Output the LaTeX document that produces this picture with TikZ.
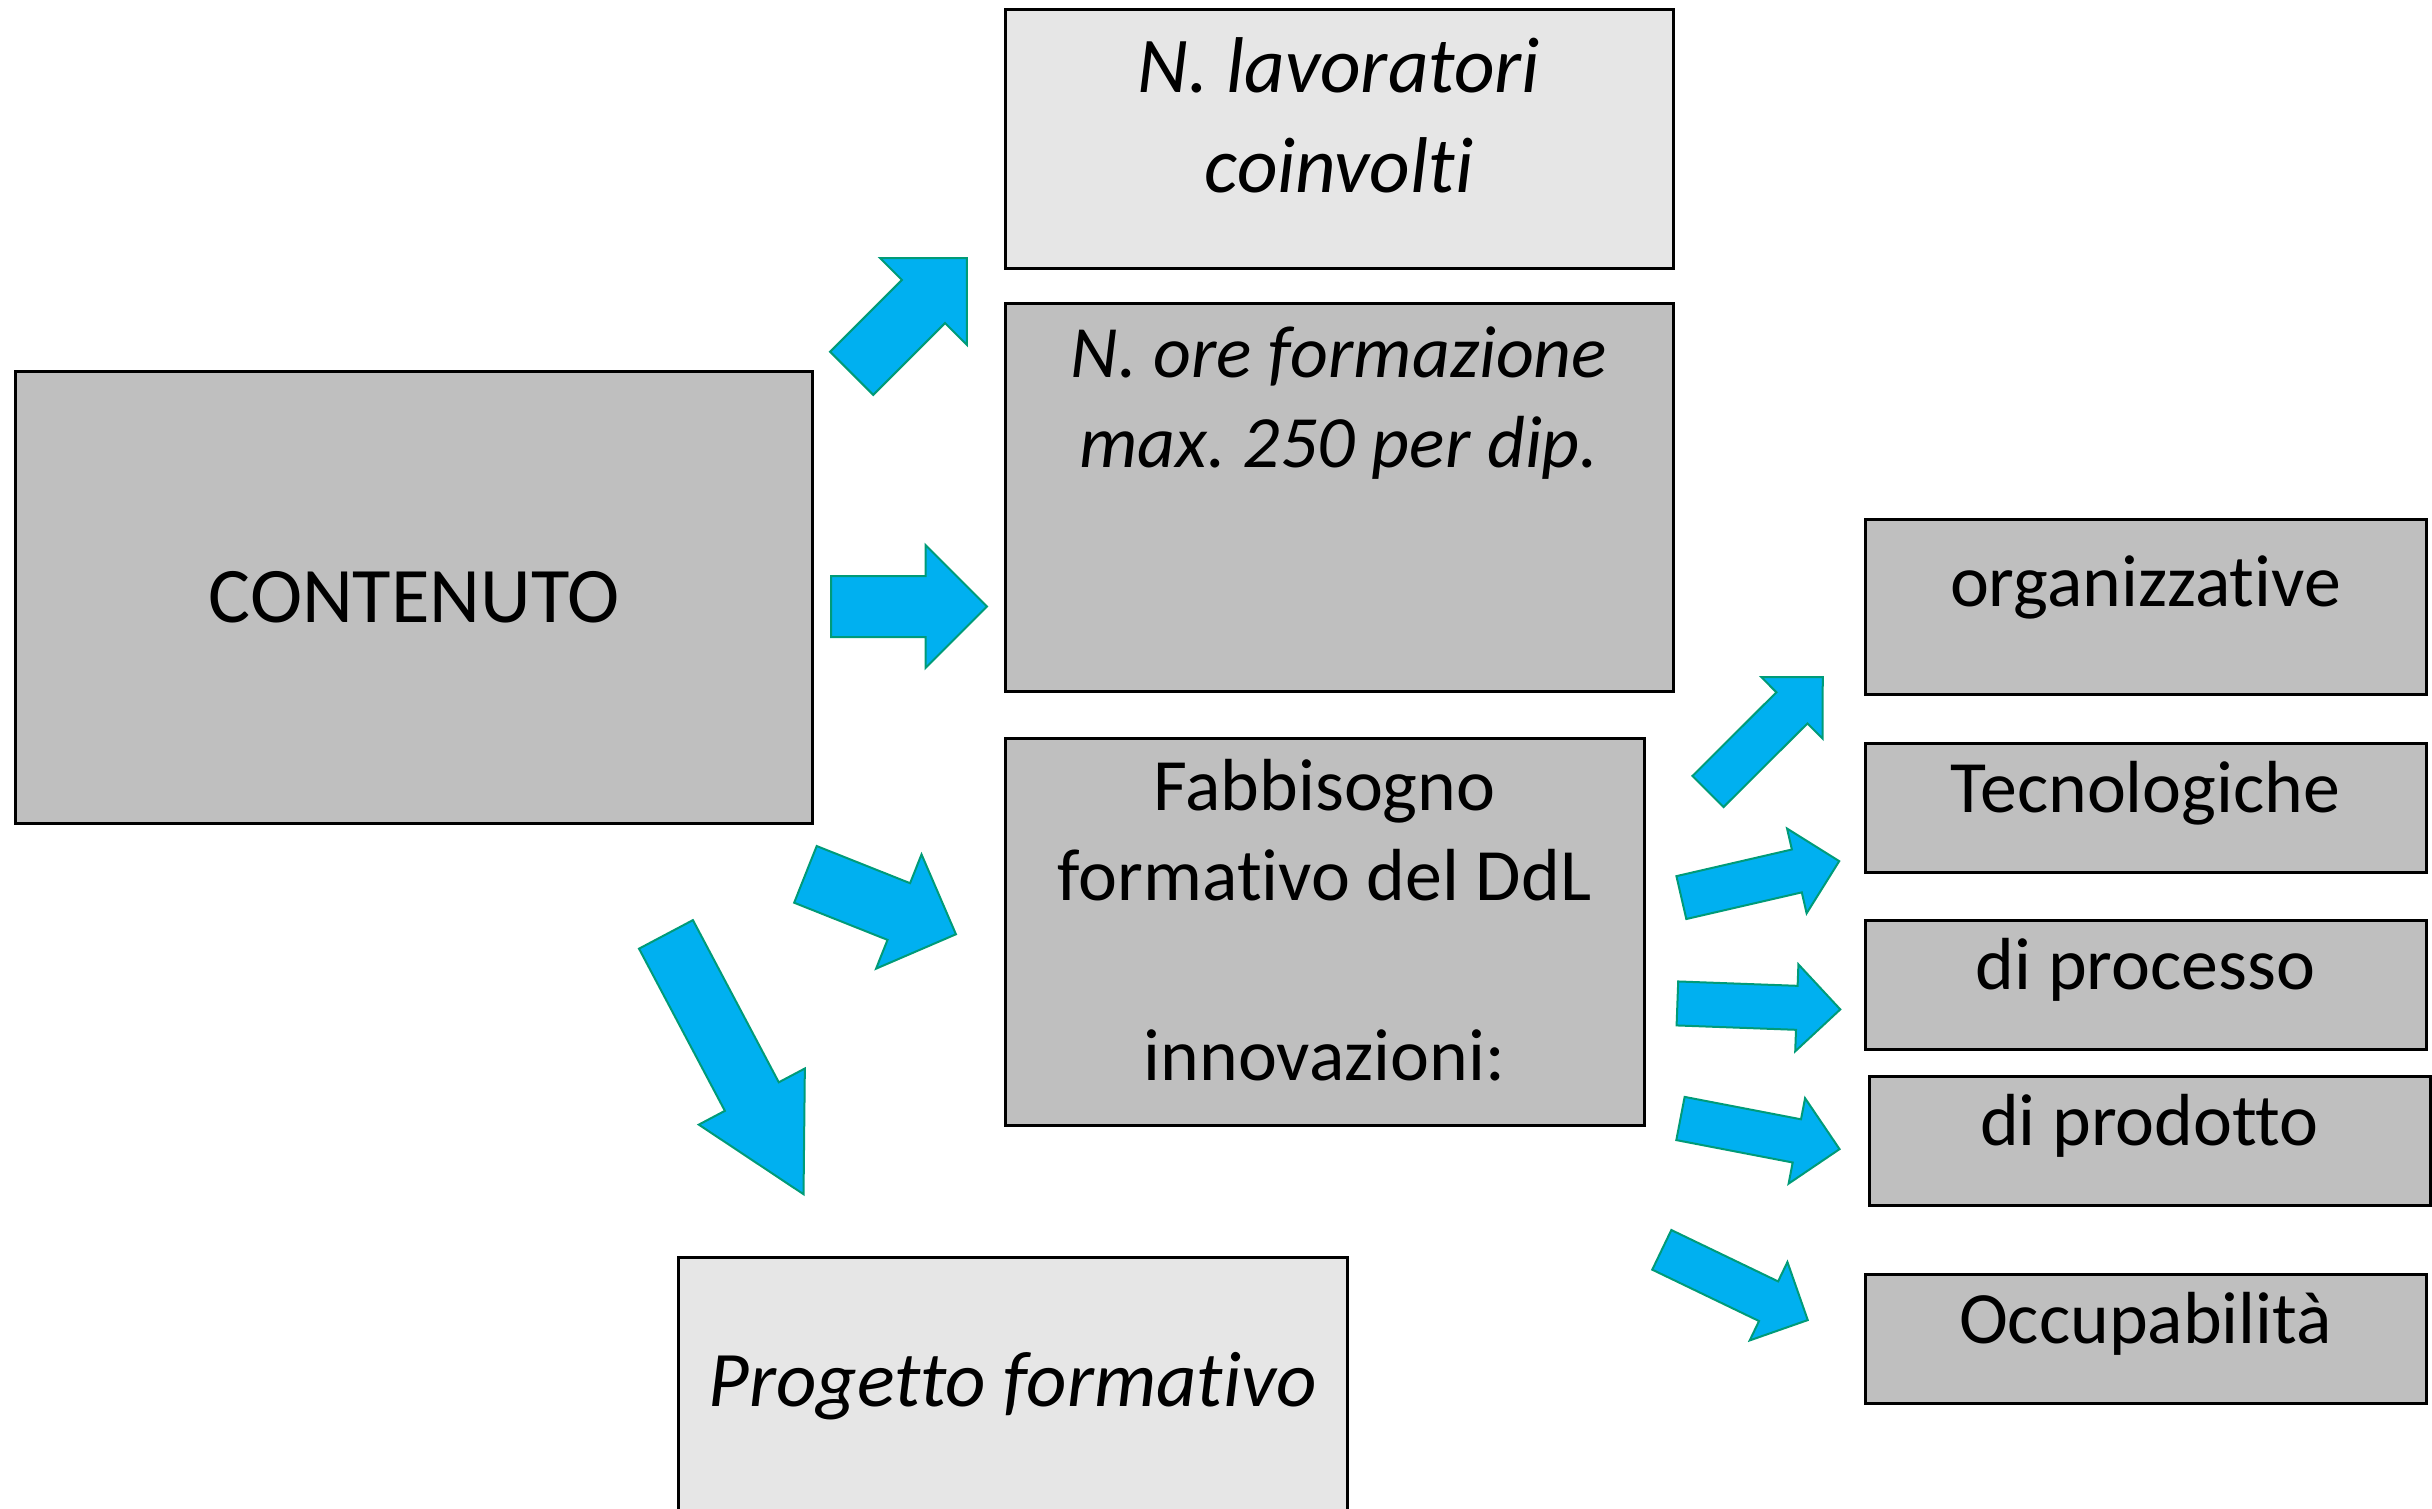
\documentclass[tikz,border=0pt]{standalone}
\usepackage{fontspec}
\setmainfont{Carlito}[Ligatures=NoCommon]
\usetikzlibrary{positioning, shapes.arrows}
\definecolor{boxgray}{HTML}{BFBFBF}
\definecolor{boxlight}{HTML}{E6E6E6}
\definecolor{arrowblue}{HTML}{00B0F0}
\definecolor{arrowrim}{RGB}{0,155,120}

\tikzset{
  gbox/.style={draw, line width=0.03cm, fill=boxgray, inner sep=0pt, align=center},
  lbox/.style={gbox, fill=boxlight},
  rbox/.style={gbox, minimum width=5.61cm, inner ysep=0.17cm, text height=0.52cm,
    text depth=0.43cm, font=\fontsize{21}{25.6}\selectfont},
  toptext/.style={anchor=north, align=center, font=\fontsize{21}{25.6}\selectfont},
  barrow/.style={single arrow, draw=arrowrim, fill=arrowblue, line width=0.02cm,
    inner xsep=0pt, inner ysep=0.295cm, single arrow head extend=0.31cm, anchor=tail},
  sarrow/.style={barrow, inner ysep=0.21cm, single arrow head extend=0.215cm,
    minimum height=1.62cm}
}

\begin{document}
\frenchspacing
\begin{tikzpicture}[node distance=2cm, auto]
\useasboundingbox (0,0) rectangle (24.32,-15.09);
\clip (0,0) rectangle (24.32,-15.09);

% boxes
\node (CONT) [gbox, minimum width=7.96cm, minimum height=4.52cm,
  font=\fontsize{22.4}{27}\selectfont] at (4.14,-5.97) {CONTENUTO};
\node (LAV) [lbox, minimum width=6.68cm, minimum height=2.59cm,
  label={[toptext, yshift=-0.18cm, font=\fontsize{22.5}{28.3}\selectfont\itshape]north:{N. lavoratori\\coinvolti}}]
  at (13.39,-1.385) {};
\node (ORE) [gbox, below of=LAV, yshift=-1.585cm, minimum width=6.68cm, minimum height=3.88cm,
  label={[toptext, yshift=-0.13cm, font=\fontsize{21}{25.5}\selectfont\itshape]north:{N. ore formazione\\max. 250 per dip.}}] {};
\node (FAB) [gbox, below of=ORE, yshift=-2.345cm, xshift=-0.145cm, minimum width=6.39cm, minimum height=3.87cm,
  label={[toptext, yshift=-0.10cm]north:{Fabbisogno\\formativo del DdL\\[0.9cm]innovazioni:}}] {};
\node (PROG) [lbox, minimum width=6.69cm, minimum height=2.58cm,
  font=\fontsize{22.4}{27}\selectfont\itshape] at (10.125,-13.86) {Progetto formativo};

\node (ORG) [rbox, minimum height=1.75cm, text height=0.70cm, text depth=0.71cm] at (21.455,-6.065) {organizzative};
\node (TEC) [rbox, below of=ORG, yshift=-0.01cm] {Tecnologiche};
\node (PROC) [rbox, below of=TEC, yshift=0.23cm] {di processo};
\node (PROD) [rbox, below of=PROC, yshift=0.44cm, xshift=0.04cm] {di prodotto};
\node (OCC) [rbox, below of=PROD, yshift=0.015cm, xshift=-0.04cm] {Occupabilità};

% arrows
\node (AR1) [barrow, rotate=45, minimum height=1.63cm] at (8.51,-3.74) {};
\node (AR2) [barrow, minimum height=1.56cm] at (8.30,-6.065) {};
\node (AR3) [barrow, rotate=-21.7, minimum height=1.62cm] at (8.045,-8.74) {};
\node (AR4) [barrow, rotate=-62.1, minimum height=2.94cm, single arrow head extend=0.295cm,
  single arrow tip angle=57] at (6.655,-9.335) {};
\node (AR5) [sarrow, rotate=44.9] at (17.073,-7.922) {};
\node (AR6) [sarrow, rotate=13] at (16.804,-8.978) {};
\node (AR7) [sarrow, rotate=-2.1, minimum height=1.63cm] at (16.764,-10.034) {};
\node (AR8) [sarrow, rotate=-10.9] at (16.795,-11.183) {};
\node (AR9) [sarrow, rotate=-25.7] at (16.609,-12.494) {};
\end{tikzpicture}
\end{document}
